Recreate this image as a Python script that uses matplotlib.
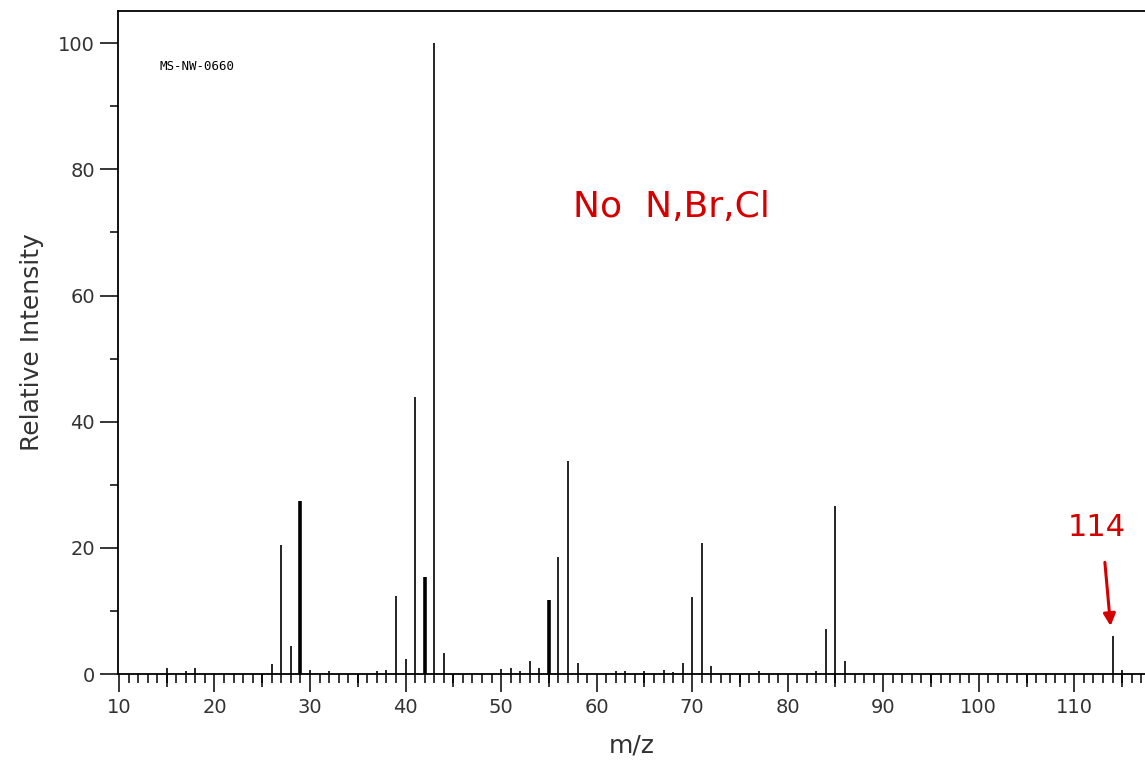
import numpy as np
import matplotlib.pyplot as plt
from matplotlib.ticker import MultipleLocator

# peak list (m/z, relative intensity)
mz = [15, 17, 18, 26, 27, 28, 29, 30, 32, 37, 38, 39, 40, 41, 42, 43, 44,
      50, 51, 52, 53, 54, 55, 56, 57, 58, 62, 63, 65, 67, 68, 69, 70, 71, 72,
      77, 83, 84, 85, 86, 114, 115]
intensity = [0.9, 0.4, 1.0, 1.6, 20.4, 4.4, 27.5, 0.7, 0.4, 0.4, 0.7, 12.4, 2.4,
             43.9, 15.4, 100.0, 3.4,
             0.8, 1.0, 0.4, 2.1, 0.95, 11.7, 18.5, 33.8, 1.8, 0.4, 0.4, 0.4, 0.7,
             0.3, 1.7, 12.2, 20.7, 1.2,
             0.4, 0.4, 7.2, 26.7, 2.1, 6.1, 0.6]
thick_peaks = [29, 42, 55]

xticks = np.arange(10, 111, 10)
yticks = np.arange(0, 101, 20)

W, H = 1145, 775
fig = plt.figure(figsize=(W / 100, H / 100), dpi=100)
ax = fig.add_axes([118 / W, 1 - 674 / H, 1 - 118 / W, (674 - 11) / H])

lw = [2.6 if m in thick_peaks else 1.2 for m in mz]
ax.vlines(mz, 0, intensity, colors="black", linewidths=lw)

ax.set_xlim(9.9, 117.4)
ax.set_ylim(0, 105.1)

ink = "#333333"
ax.set_xticks(xticks)
ax.xaxis.set_minor_locator(MultipleLocator(1))
ax.set_yticks(yticks)
ax.yaxis.set_minor_locator(MultipleLocator(10))
ax.tick_params(axis="both", which="major", direction="out", length=13, width=1.1,
               labelsize=14, labelcolor=ink, color="black")
ax.tick_params(axis="x", which="minor", direction="out", length=6.5, width=1.1, color="black")
ax.tick_params(axis="y", which="minor", direction="out", length=6, width=1.1, color="black")
ax.tick_params(axis="x", which="major", pad=4)

# medium ticks every 5
sec = ax.secondary_xaxis("bottom")
sec.set_xticks(np.arange(15, 116, 10))
sec.set_xticklabels([])
sec.tick_params(direction="out", length=9.5, width=1.1, color="black")
sec.spines["bottom"].set_visible(False)

for s in ["left", "top", "bottom"]:
    ax.spines[s].set_linewidth(1.3)
ax.spines["right"].set_visible(False)

ax.set_xlabel("m/z", fontsize=18, color=ink, labelpad=12)
ax.set_ylabel("Relative Intensity", fontsize=18, color=ink, labelpad=10)

fig.text(159 / W, 1 - 66 / H, "MS-NW-0660", fontsize=9, family="DejaVu Sans Mono",
         color="black", va="center")

red = "#d40000"
ax.text(0.443, 0.705, "No  N,Br,Cl", transform=ax.transAxes, fontsize=26, color=red,
        ha="left", va="center")
ax.text(112.3, 23.3, "114", fontsize=22, color=red, ha="center", va="center")
ax.annotate("", xy=(113.8, 7.6), xytext=(113.2, 17.7),
            arrowprops=dict(arrowstyle="-|>", color=red, lw=2.2, shrinkA=0, shrinkB=0,
                            mutation_scale=18))

fig.savefig("out.png", dpi=100)
